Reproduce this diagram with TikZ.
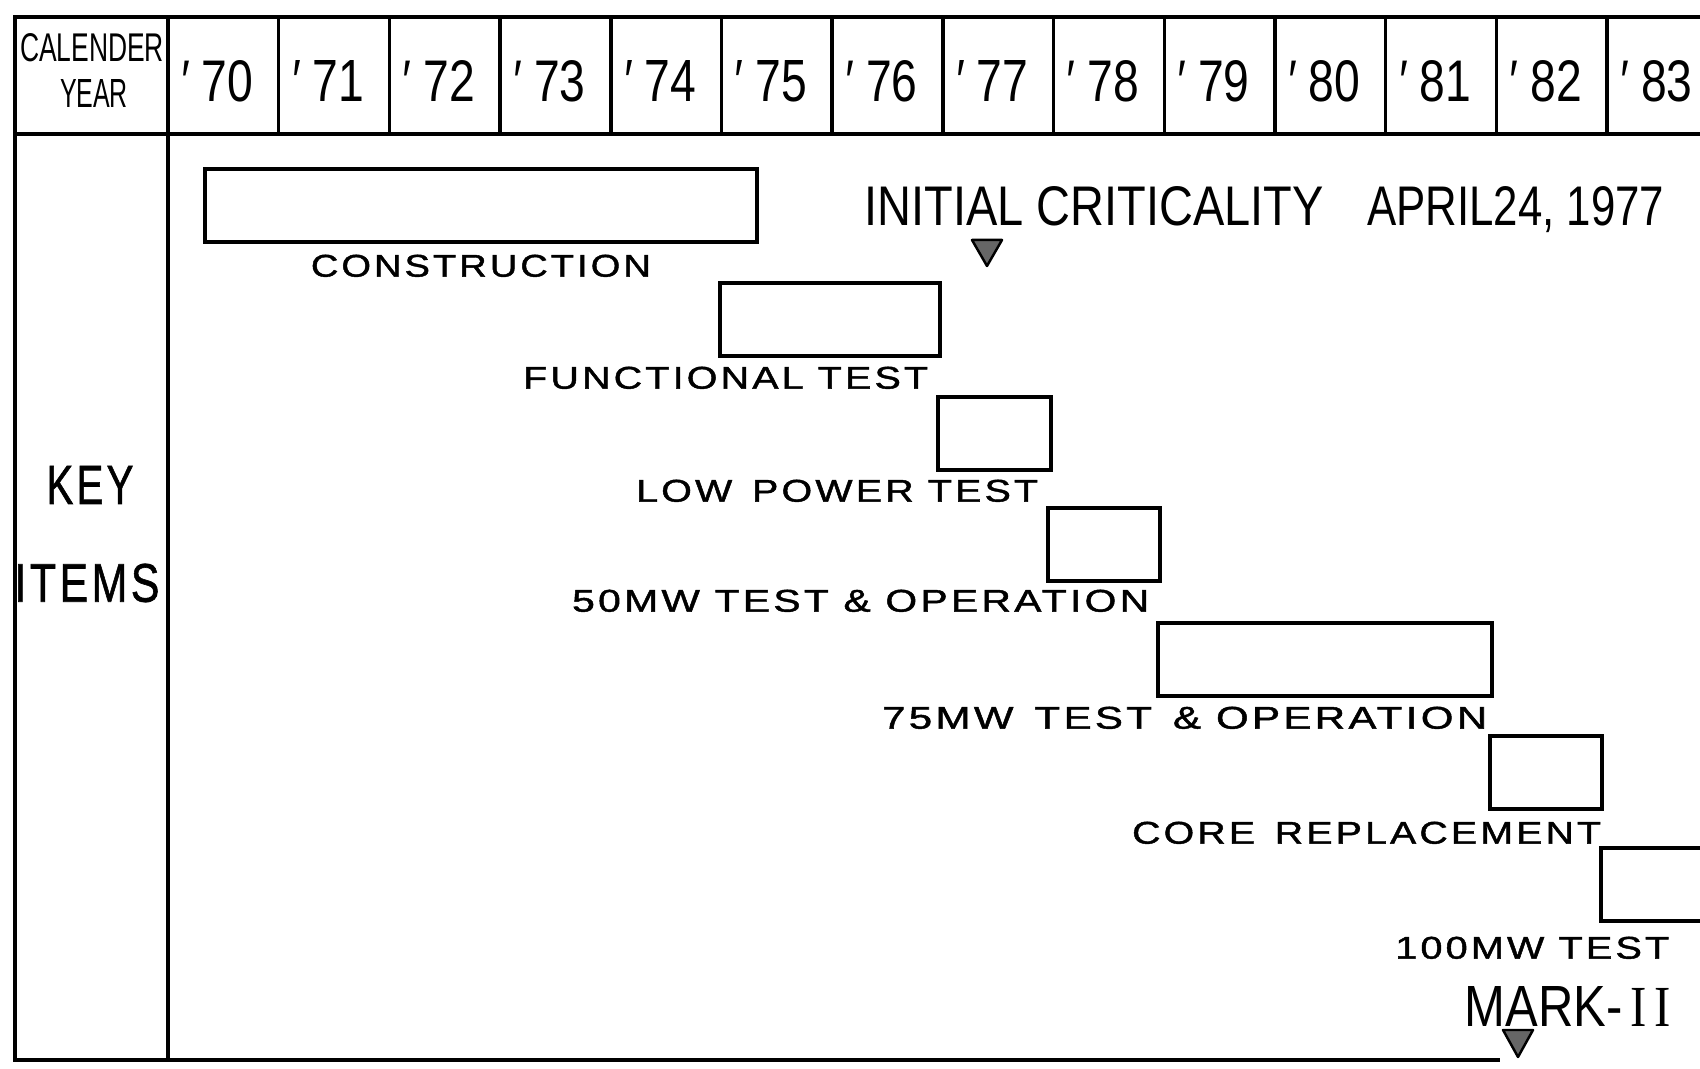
\documentclass[tikz,border=0pt]{standalone}
\usepackage{fontspec}
\setmainfont{Liberation Sans}
\newfontfamily\labelfont[LetterSpace=8,FakeBold=1.2]{Liberation Sans}
\newfontfamily\numeralfont{Liberation Serif}
\usetikzlibrary{positioning}
\newcommand{\fitbox}[3]{\resizebox{#1cm}{#2cm}{#3}}

\tikzset{
  frame/.style={line width=1.4pt},
  grid/.style={line width=1pt},
  bar/.style={draw, line width=1.1pt, minimum height=0.73cm, inner sep=0pt, anchor=south west},
  txt/.style={inner sep=0pt},
  marker/.style={draw, fill=black!60, line width=0.7pt, line join=round}
}

\begin{document}
\begin{tikzpicture}
  \useasboundingbox (0,0) rectangle (17,10.69);
  \clip (0,0) rectangle (17,10.69);

  % Rahmen und Tabellenkopf
  \draw[frame] (17.2,10.52) -- (0.15,10.52) -- (0.15,0.09) -- (15.0,0.09);
  \draw[grid] (0.15,9.35) -- (17.2,9.35);
  \draw[grid] (1.68,10.52) -- (1.68,0.09);
  \foreach \i in {1,...,13}
    \draw[grid] ({1.68+1.107*\i},10.52) -- ({1.68+1.107*\i},9.35);

  % Kopfzeile
  \node[txt] (cal) at (0.92,10.21) {\fitbox{1.44}{0.28}{CALENDER}};
  \node[txt] (year) at (0.94,9.75) {\fitbox{0.68}{0.28}{YEAR}};
  \foreach \yr [count=\i from 0] in {70,...,83}
    \node[txt] (y\yr) at ({1.68+1.107*(\i+0.5)-0.07},9.88) {\fitbox{0.74}{0.41}{{\itshape ′}\hspace{0.3em}\yr}};

  % Linke Spalte
  \node[txt] (key) at (0.90,5.84) {\fitbox{0.87}{0.38}{\labelfont KEY}};
  \node[txt] (items) at (0.87,4.86) {\fitbox{1.45}{0.38}{\labelfont ITEMS}};

  % Balken
  \node[bar, minimum width=5.52cm] (constr) at (2.03,8.25) {};
  \node[bar, minimum width=2.20cm] (func) at (7.18,7.11) {};
  \node[bar, minimum width=1.13cm] (lowpow) at (9.36,5.97) {};
  \node[bar, minimum width=1.12cm] (mwfifty) at (10.46,4.86) {};
  \node[bar, minimum width=3.34cm] (mwseventyfive) at (11.56,3.71) {};
  \node[bar, minimum width=1.12cm] (core) at (14.88,2.58) {};
  \node[bar, minimum width=1.60cm] (mwhundred) at (15.99,1.46) {};

  % Beschriftungen der Balken
  \node[txt, below=0.1cm of constr] (constrlbl) {\fitbox{3.40}{0.22}{\labelfont CONSTRUCTION}};
  \node[txt, below left=0.08cm and 0.13cm of func.south east] (funclbl) {\fitbox{4.05}{0.22}{\labelfont FUNCTIONAL TEST}};
  \node[txt, below left=0.07cm and 0.14cm of lowpow.south east] (lowpowlbl) {\fitbox{4.02}{0.22}{\labelfont LOW\enspace POWER TEST}};
  \node[txt, below left=0.06cm and 0.12cm of mwfifty.south east] (mwfiftylbl) {\fitbox{5.77}{0.22}{\labelfont 50MW TEST \& OPERATION}};
  \node[txt, below left=0.08cm and 0.06cm of mwseventyfive.south east] (mwseventyfivelbl) {\fitbox{6.05}{0.22}{\labelfont 75MW\enspace TEST\enspace \&\ OPERATION}};
  \node[txt, below left=0.10cm and 0.02cm of core.south east] (corelbl) {\fitbox{4.69}{0.22}{\labelfont CORE\enspace REPLACEMENT}};
  \node[txt, anchor=north east] (mwhundredlbl) at (16.70,1.33) {\fitbox{2.74}{0.22}{\labelfont 100MW TEST}};

  % Ereignisse
  \node[txt, anchor=base west] (crit) at (8.64,8.43) {\fitbox{4.59}{0.39}{INITIAL CRITICALITY}};
  \node[txt, base right=0.42cm of crit] (critdate) {\fitbox{2.97}{0.39}{APRIL24, 1977}};
  \coordinate (critmark) at (9.87,8.03);
  \draw[marker] (critmark) -- ++(-0.15,0.26) -- ++(0.30,0) -- cycle;

  \node[txt, anchor=base west] (mark) at (14.64,0.42) {\fitbox{2.06}{0.40}{MARK-\,{\numeralfont I\kern0.15em I}}};
  \coordinate (markmark) at (15.18,0.12);
  \draw[marker] (markmark) -- ++(-0.15,0.27) -- ++(0.30,0) -- cycle;
\end{tikzpicture}
\end{document}
